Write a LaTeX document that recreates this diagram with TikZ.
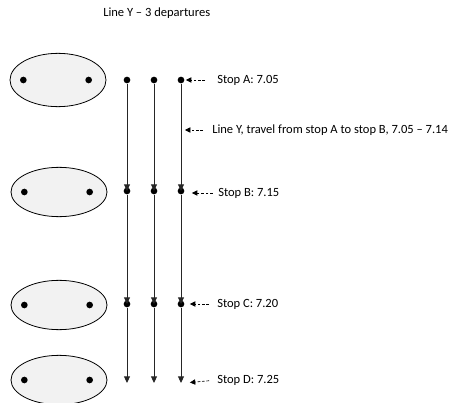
\documentclass[tikz,border=0pt]{standalone}
\usepackage{fontspec}
\setmainfont{Carlito}
\usetikzlibrary{arrows.meta,positioning,shapes.geometric}

\begin{document}
\begin{tikzpicture}[x=0.75pt,y=-0.75pt,
  platform/.style={ellipse,draw=black,line width=0.6pt,fill=gray!10,
    minimum width=72pt,minimum height=37pt,inner sep=0pt},
  dot/.style={circle,fill=black,inner sep=0pt,minimum size=5pt},
  run/.style={draw=black!85,line width=0.7pt,-{Triangle[length=5pt,width=4.5pt]}},
  note/.style={font=\fontsize{9.4}{11}\selectfont,anchor=west,inner sep=0pt},
  pointer/.style={draw=black,line width=0.5pt,dash pattern=on 2pt off 1.3pt,
    -{Triangle[length=4pt,width=4pt]}}
]
\useasboundingbox (0,0) rectangle (450,403);

\node[note] (title) at (103,13) {Line Y -- 3 departures};

% platforms with their two waiting points
\node[platform,minimum height=40pt] (platA) at (58,80) {};
\node[platform] (platB) at (59,192) {};
\node[platform] (platC) at (59,305) {};
\node[platform] (platD) at (59,380) {};
\foreach \s in {A,B,C,D}{
  \node[dot] (\s-in)  at ([xshift=-26pt]plat\s.center) {};
  \node[dot] (\s-out) at ([xshift=23pt]plat\s.center) {};
}

% the three departures, stop A down to stop D
\foreach \x [count=\n] in {127,154,181}{
  \node[dot] (A\n) at (\x,80) {};
  \node[dot] (B\n) at (\x,191) {};
  \node[dot] (C\n) at (\x,304) {};
  \coordinate (D\n) at (\x,383);
  \draw[run] (A\n) -- (B\n.center);
  \draw[run] (B\n) -- (C\n.center);
  \draw[run] (C\n) -- (D\n);
}

% timetable notes
\node[note] (lblA) at (217,80) {Stop A: 7.05};
\node[note] (lblAB) at (212,130) {Line Y, travel from stop A to stop B, 7.05 -- 7.14};
\node[note] (lblB) at (218,193) {Stop B: 7.15};
\node[note] (lblC) at (217,304) {Stop C: 7.20};
\node[note] (lblD) at (217,380) {Stop D: 7.25};
\coordinate (onrun) at (181,130);

\draw[pointer,shorten <=9pt,shorten >=1pt] (lblA.west) -- (A3.east);
\draw[pointer,shorten <=6.75pt,shorten >=3pt] (lblAB.west) -- (onrun);
\draw[pointer,shorten <=4pt,shorten >=5.5pt] (lblB.west) -- (B3.east |- lblB.west);
\draw[pointer,shorten <=6pt,shorten >=4pt] (lblC.west) -- (C3.east |- lblC.west);
\draw[pointer,shorten <=6pt,shorten >=4pt] (lblD.west) -- (D3 -| C3.east);
\end{tikzpicture}
\end{document}
